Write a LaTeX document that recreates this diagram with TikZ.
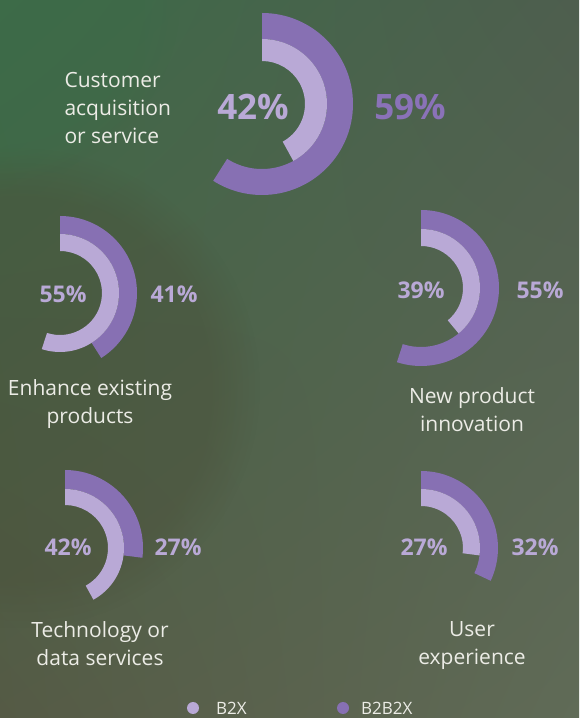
\documentclass[tikz,border=0pt]{standalone}
\usepackage{fontspec}
\setmainfont{Open Sans}
\usetikzlibrary{calc,shadings,fadings}
\definecolor{darkp}{HTML}{8770B3}
\definecolor{lightp}{HTML}{B9A9D6}
\definecolor{darklab}{HTML}{8A72B8}
\definecolor{txt}{HTML}{ECECE6}
\definecolor{bgUL}{HTML}{3D6B48}
\definecolor{bgUR}{HTML}{4E5E4E}
\definecolor{bgLL}{HTML}{555A45}
\definecolor{bgLR}{HTML}{606B57}
\definecolor{bgDark}{HTML}{4A4C36}
\tikzset{
  pctbig/.style={font=\fontsize{35}{40}\selectfont\bfseries},
  pct/.style={font=\fontsize{23}{27}\selectfont\bfseries},
  cat/.style={font=\fontsize{21}{28}\selectfont, text=txt, align=center},
  leg/.style={font=\fontsize{17}{20}\selectfont, text=txt, anchor=west, inner sep=0pt},
}
% \ringseg{name}{cx}{cy}{r1}{r2}{pct}{color}
\newcommand{\ringseg}[7]{%
  \coordinate (#1) at (#2,#3);
  \fill[#7] ($(#1)+(90:#5)$) arc[start angle=90, end angle={90-3.6*#6}, radius=#5 pt]
    -- ($(#1)+({90-3.6*#6}:#4)$) arc[start angle={90-3.6*#6}, end angle=90, radius=#4 pt] -- cycle;
}
\begin{document}
\begin{tikzpicture}[x=1pt,y=1pt]
\useasboundingbox (0,0) rectangle (579,718);
\shade[upper left=bgUL, upper right=bgUR, lower left=bgLL, lower right=bgLR] (0,0) rectangle (579,718);
\begin{scope}
\clip (0,0) rectangle (579,718);
\fill[bgDark, opacity=0.35, path fading=circle with fuzzy edge 20 percent] (20,330) circle (240);
\fill[bgUL, opacity=0.5, path fading=circle with fuzzy edge 20 percent] (0,718) circle (180);
\end{scope}

% Chart 1
\ringseg{c1d}{262}{614}{65}{91}{59}{darkp}
\ringseg{c1l}{262}{614}{43}{65}{42}{lightp}
\node[pctbig, text=lightp] (p1a) at (253,611) {42\%};
\node[pctbig, text=darklab] (p1b) at (410,611) {59\%};
\node[cat, align=left, anchor=west] (t1) at (61,610) {Customer\\acquisition\\or service};

% Chart 2
\ringseg{c2d}{60}{425}{59}{77}{41}{darkp}
\ringseg{c2l}{60}{425}{42}{59}{55}{lightp}
\node[pct, text=lightp] (p2a) at (63,424) {55\%};
\node[pct, text=lightp] (p2b) at (174,424) {41\%};
\node[cat] (t2) at (90,314) {Enhance existing\\products};

% Chart 3
\ringseg{c3d}{421}{430}{59}{78}{55}{darkp}
\ringseg{c3l}{421}{430}{42}{59}{39}{lightp}
\node[pct, text=lightp] (p3a) at (421,428) {39\%};
\node[pct, text=lightp] (p3b) at (540,428) {55\%};
\node[cat] (t3) at (472,308) {New product\\innovation};

% Chart 4
\ringseg{c4d}{65}{170}{59}{78}{27}{darkp}
\ringseg{c4l}{65}{170}{43}{59}{42}{lightp}
\node[pct, text=lightp] (p4a) at (68,171) {42\%};
\node[pct, text=lightp] (p4b) at (178,171) {27\%};
\node[cat] (t4) at (100,74) {Technology or\\data services};

% Chart 5
\ringseg{c5d}{421}{170}{59}{77}{32}{darkp}
\ringseg{c5l}{421}{170}{42}{59}{27}{lightp}
\node[pct, text=lightp] (p5a) at (424,171) {27\%};
\node[pct, text=lightp] (p5b) at (535,171) {32\%};
\node[cat] (t5) at (472,72) {User\\experience};

% Legend
\fill[lightp] (193,10) circle (6);
\node[leg] (l1) at (216,10) {B2X};
\fill[darkp] (343,10) circle (6);
\node[leg] (l2) at (361,10) {B2B2X};
\end{tikzpicture}
\end{document}
